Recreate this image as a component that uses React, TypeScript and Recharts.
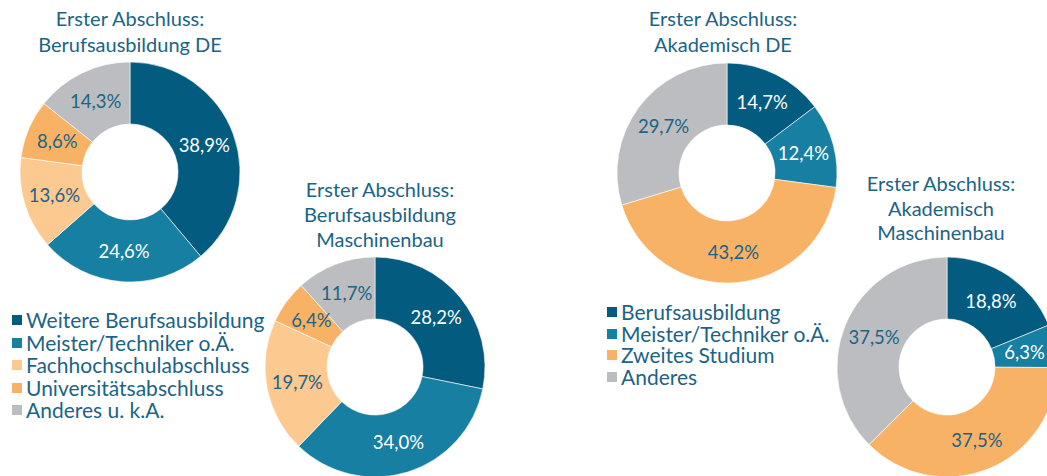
import React from "react";
import { PieChart, Pie, Cell } from "recharts";

const berufCategories = ["Weitere Berufsausbildung", "Meister/Techniker o.Ä.", "Fachhochschulabschluss", "Universitätsabschluss", "Anderes u. k.A."];
const berufDE = [38.9, 24.6, 13.6, 8.6, 14.3];
const berufMB = [28.2, 34.0, 19.7, 6.4, 11.7];

const akadCategories = ["Berufsausbildung", "Meister/Techniker o.Ä.", "Zweites Studium", "Anderes"];
const akadDE = [14.7, 12.4, 43.2, 29.7];
const akadMB = [18.8, 6.3, 37.5, 37.5];

const titles = [
  ["Erster Abschluss:", "Berufsausbildung DE"],
  ["Erster Abschluss:", "Berufsausbildung", "Maschinenbau"],
  ["Erster Abschluss:", "Akademisch DE"],
  ["Erster Abschluss:", "Akademisch", "Maschinenbau"],
];

const berufColors = ["#035b80", "#167fa2", "#fcc990", "#f8b266", "#bcbdc1"];
const akadColors = ["#035b80", "#167fa2", "#f8b266", "#bcbdc1"];
const lightText = [true, true, false, false, false];
const akadLightText = [true, true, false, false];

const TEXT = "#1b6485";
const FONT = "Lato, 'Noto Sans', sans-serif";

const W = 1047;
const H = 476;

const toData = (cats: string[], vals: number[]) => cats.map((c, i) => ({ name: c, value: vals[i] }));

const makeLabel = (light: boolean[]) => (props: any) => {
  const { cx, cy, midAngle, innerRadius, outerRadius, value, index } = props;
  const RAD = Math.PI / 180;
  const r = (innerRadius + outerRadius) / 2;
  const x = cx + r * Math.cos(-midAngle * RAD);
  const y = cy + r * Math.sin(-midAngle * RAD);
  return (
    <text
      x={x}
      y={y}
      fill={light[index] ? "#ffffff" : TEXT}
      textAnchor="middle"
      dominantBaseline="central"
      fontFamily={FONT}
      fontSize={18.5}
    >
      {value.toFixed(1).replace(".", ",") + "%"}
    </text>
  );
};

const pies = [
  { cats: berufCategories, vals: berufDE, colors: berufColors, light: lightText, cx: 130, cy: 172 },
  { cats: berufCategories, vals: berufMB, colors: berufColors, light: lightText, cx: 375, cy: 367 },
  { cats: akadCategories, vals: akadDE, colors: akadColors, light: akadLightText, cx: 727, cy: 173 },
  { cats: akadCategories, vals: akadMB, colors: akadColors, light: akadLightText, cx: 947, cy: 367 },
];

const titlePos = [
  { x: 130, top: 5, lh: 26 },
  { x: 380, top: 177, lh: 25 },
  { x: 723, top: 5, lh: 26 },
  { x: 941, top: 171, lh: 24.5 },
];

const legends = [
  { cats: berufCategories, colors: berufColors, left: 12, top: 309, lh: 22.5 },
  { cats: akadCategories, colors: akadColors, left: 607, top: 301, lh: 21.7 },
];

export default function App() {
  return (
    <div style={{ position: "absolute", left: 0, top: 0, width: W, height: H, overflow: "hidden", background: "#fff" }}>
      <PieChart width={W} height={H} margin={{ top: 0, right: 0, bottom: 0, left: 0 }}>
        {pies.map((p, k) => (
          <Pie
            key={k}
            data={toData(p.cats, p.vals)}
            dataKey="value"
            nameKey="name"
            cx={p.cx}
            cy={p.cy}
            innerRadius={48}
            outerRadius={110}
            startAngle={90}
            endAngle={-270}
            stroke="#ffffff"
            strokeWidth={0.6}
            label={makeLabel(p.light)}
            labelLine={false}
            isAnimationActive={false}
          >
            {p.vals.map((_, i) => (
              <Cell key={i} fill={p.colors[i]} />
            ))}
          </Pie>
        ))}
      </PieChart>
      {titles.map((t, k) => (
        <div
          key={k}
          style={{
            position: "absolute",
            left: titlePos[k].x - 150,
            width: 300,
            top: titlePos[k].top,
            textAlign: "center",
            fontFamily: FONT,
            fontSize: 20,
            lineHeight: titlePos[k].lh + "px",
            color: TEXT,
            whiteSpace: "nowrap",
          }}
        >
          {t.map((line, i) => (
            <div key={i} style={{ height: titlePos[k].lh }}>{line}</div>
          ))}
        </div>
      ))}
      {legends.map((lg, k) => (
        <div
          key={k}
          style={{
            position: "absolute",
            left: lg.left,
            top: lg.top,
            fontFamily: FONT,
            fontSize: 21,
            lineHeight: lg.lh + "px",
            color: TEXT,
            whiteSpace: "nowrap",
          }}
        >
          {lg.cats.map((c, i) => (
            <div key={i} style={{ display: "flex", alignItems: "center", height: lg.lh }}>
              <span style={{ display: "inline-block", width: 10, height: 10, background: lg.colors[i], marginRight: 4 }} />
              <span style={{ display: "inline-block", height: lg.lh, lineHeight: lg.lh + "px", overflow: "visible" }}>{c}</span>
            </div>
          ))}
        </div>
      ))}
    </div>
  );
}
